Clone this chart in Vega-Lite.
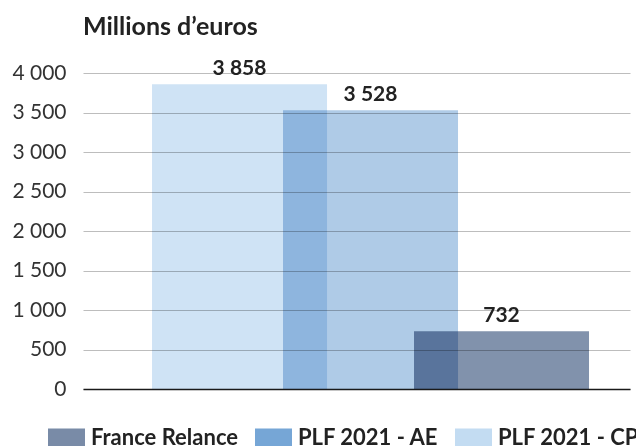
{
  "$schema": "https://vega.github.io/schema/vega-lite/v6.json",
  "autosize": "none",
  "padding": {"left": 83, "top": 73, "right": 6, "bottom": 57},
  "width": 547,
  "height": 316,
  "background": "white",
  "title": {
    "text": "Millions d’euros",
    "anchor": "start",
    "frame": "group",
    "font": "Lato",
    "fontSize": 25,
    "fontWeight": "bold",
    "color": "#222222",
    "baseline": "alphabetic",
    "offset": -2
  },
  "data": {
    "values": [
      {"series": "PLF 2021 - CP", "value": 3858},
      {"series": "PLF 2021 - AE", "value": 3528},
      {"series": "France Relance", "value": 732}
    ]
  },
  "transform": [
    {"calculate": "replace(format(datum.value, ','), ',', ' ')", "as": "label"}
  ],
  "encoding": {
    "x": {
      "field": "series",
      "type": "nominal",
      "sort": null,
      "scale": {
        "domain": ["PLF 2021 - CP", "PLF 2021 - AE", "France Relance"],
        "paddingInner": 0,
        "paddingOuter": 0.5878,
        "align": 0.591
      },
      "axis": {
        "title": null,
        "labels": false,
        "ticks": false,
        "grid": false,
        "domain": true,
        "domainColor": "#1a1a1a",
        "domainWidth": 1.5
      }
    },
    "y": {
      "field": "value",
      "type": "quantitative",
      "scale": {"domain": [0, 4000], "nice": false},
      "axis": {
        "title": null,
        "values": [0, 500, 1000, 1500, 2000, 2500, 3000, 3500, 4000],
        "labelExpr": "replace(format(datum.value, ','), ',', ' ')",
        "domain": false,
        "ticks": false,
        "grid": true,
        "gridColor": "#bdbdbd",
        "gridWidth": 1,
        "labelFont": "Lato",
        "labelFontSize": 21,
        "labelColor": "#333333",
        "labelPadding": 17
      }
    }
  },
  "layer": [
    {
      "mark": {"type": "bar", "width": 175, "blend": "multiply"},
      "encoding": {
        "fill": {
          "field": "series",
          "type": "nominal",
          "scale": {
            "domain": ["France Relance", "PLF 2021 - AE", "PLF 2021 - CP"],
            "range": ["#798ba7", "#76a6d6", "#c3dcf2"]
          },
          "legend": {
            "title": null,
            "orient": "none",
            "direction": "horizontal",
            "legendX": -35,
            "legendY": 346,
            "symbolType": "M-1,-0.5H1V0.5H-1Z",
            "symbolSize": 1369,
            "symbolOpacity": 1,
            "symbolStrokeWidth": 0,
            "labelFont": "Lato",
            "labelFontSize": 22,
            "labelFontWeight": "bold",
            "labelColor": "#222222",
            "labelOffset": 6,
            "columnPadding": 16,
            "labelLimit": 300
          }
        },
        "fillOpacity": {
          "condition": [
            {"test": "datum.series === 'France Relance'", "value": 0.94},
            {"test": "datum.series === 'PLF 2021 - AE'", "value": 0.58}
          ],
          "value": 0.8
        }
      }
    },
    {
      "mark": {
        "type": "text",
        "dy": -9,
        "baseline": "alphabetic",
        "font": "Lato",
        "fontSize": 21,
        "fontWeight": "bold",
        "color": "#222222"
      },
      "encoding": {
        "text": {"field": "label"}
      }
    }
  ],
  "config": {
    "view": {"stroke": null}
  }
}
